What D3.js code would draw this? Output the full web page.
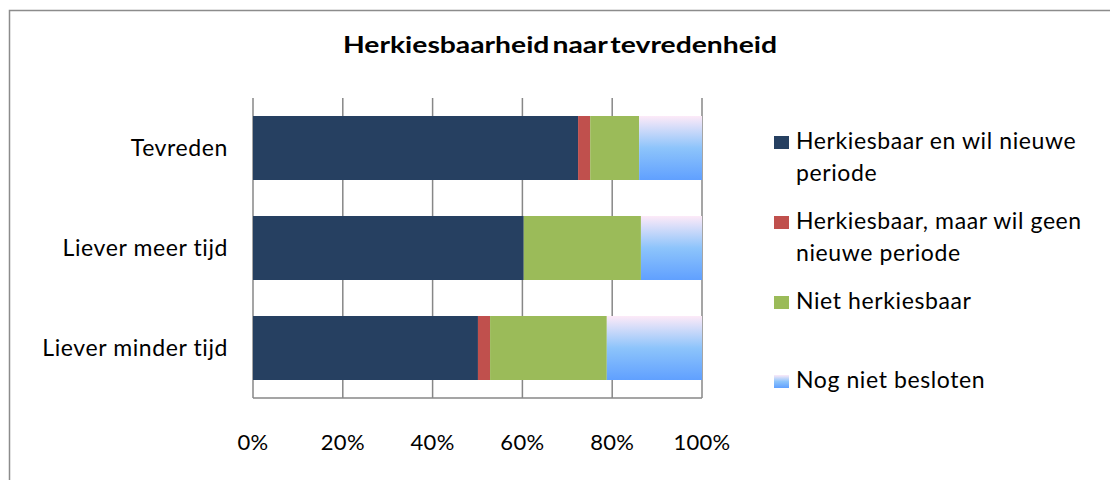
<!DOCTYPE html>
<html>
<head>
<meta charset="utf-8">
<script src="https://cdn.jsdelivr.net/npm/d3@7"></script>
<style>
  html, body { margin: 0; padding: 0; background: #fff; }
  svg { display: block; font-family: Lato, "Open Sans", sans-serif; }
</style>
</head>
<body>
<div id="chart"></div>
<script>
// values (percent of each row)
const categories = ['Tevreden', 'Liever meer tijd', 'Liever minder tijd'];
const seriesNames = [
  'Herkiesbaar en wil nieuwe periode',
  'Herkiesbaar, maar wil geen nieuwe periode',
  'Niet herkiesbaar',
  'Nog niet besloten'
];
const herkiesbaarWil = [72.4, 60.3, 50.1];
const herkiesbaarNiet = [2.7, 0, 2.7];
const nietHerkiesbaar = [10.9, 26.1, 26.0];
const nogNietBesloten = [14.0, 13.6, 21.2];
const tickValues = [0, 20, 40, 60, 80, 100];
const legendLines = [
  ['Herkiesbaar en wil nieuwe', 'periode'],
  ['Herkiesbaar, maar wil geen', 'nieuwe periode'],
  ['Niet herkiesbaar'],
  ['Nog niet besloten']
];

const W = 1110, H = 480;
const svg = d3.select('#chart').append('svg')
  .attr('width', W).attr('height', H);

const defs = svg.append('defs');
const grad = defs.append('linearGradient')
  .attr('id', 'blueFade')
  .attr('x1', 0).attr('y1', 0).attr('x2', 0).attr('y2', 1);
grad.append('stop').attr('offset', '0%').attr('stop-color', '#fdeaf8');
grad.append('stop').attr('offset', '50%').attr('stop-color', '#8dc4fb');
grad.append('stop').attr('offset', '100%').attr('stop-color', '#60a0ff');

const colors = ['#264061', '#c0504d', '#9bbb59', 'url(#blueFade)'];

// outer chart frame (runs off the right/bottom edge)
svg.append('rect')
  .attr('x', 9.5).attr('y', 10.5)
  .attr('width', W + 20).attr('height', H + 20)
  .attr('fill', 'none').attr('stroke', '#8c8c8c').attr('stroke-width', 1.5);

svg.append('text')
  .attr('x', 560).attr('y', 53)
  .attr('text-anchor', 'middle')
  .attr('font-size', 23).attr('font-weight', 'bold')
  .attr('word-spacing', -3)
  .attr('textLength', 434).attr('lengthAdjust', 'spacingAndGlyphs')
  .attr('fill', '#000')
  .text('Herkiesbaarheid naar tevredenheid');

const x = d3.scaleLinear().domain([0, 100]).range([253, 702]);
const y = d3.scaleBand().domain(categories).range([98, 398])
  .paddingInner(0.36).paddingOuter(0.18);

const rows = categories.map((c, i) => ({
  cat: c,
  s0: herkiesbaarWil[i], s1: herkiesbaarNiet[i],
  s2: nietHerkiesbaar[i], s3: nogNietBesloten[i]
}));
const stacked = d3.stack().keys(['s0', 's1', 's2', 's3'])(rows);

// gridlines
svg.append('g').selectAll('line')
  .data(tickValues)
  .join('line')
  .attr('x1', d => x(d)).attr('x2', d => x(d))
  .attr('y1', y.range()[0]).attr('y2', y.range()[1])
  .attr('stroke', '#878787').attr('stroke-width', 1.5);

svg.append('g').selectAll('g')
  .data(stacked)
  .join('g')
  .attr('fill', (d, i) => colors[i])
  .selectAll('rect')
  .data(d => d)
  .join('rect')
  .attr('x', d => x(d[0]))
  .attr('width', d => x(d[1]) - x(d[0]))
  .attr('y', d => y(d.data.cat))
  .attr('height', y.bandwidth());

// bottom axis line
svg.append('line')
  .attr('x1', x(0)).attr('x2', x(100))
  .attr('y1', 398).attr('y2', 398)
  .attr('stroke', '#878787').attr('stroke-width', 1.5);

svg.append('g').selectAll('text')
  .data(tickValues)
  .join('text')
  .attr('x', d => x(d)).attr('y', 450)
  .attr('text-anchor', 'middle')
  .attr('font-size', 22).attr('letter-spacing', 0.3).attr('fill', '#000')
  .text(d => d + '%');

svg.append('g').selectAll('text')
  .data(categories)
  .join('text')
  .attr('x', 228).attr('y', d => y(d) + y.bandwidth() / 2)
  .attr('dy', '0.35em')
  .attr('text-anchor', 'end')
  .attr('font-size', 23).attr('letter-spacing', 0.6).attr('fill', '#000')
  .text(d => d);

// legend
const legendY = [149, 229, 309, 388];
const legend = svg.append('g').selectAll('g')
  .data(seriesNames)
  .join('g')
  .attr('transform', (d, i) => `translate(774,${legendY[i]})`);
legend.append('rect')
  .attr('x', 0).attr('y', -13).attr('width', 15).attr('height', 13)
  .attr('fill', (d, i) => colors[i]);
legend.append('text')
  .attr('x', 22).attr('y', 0)
  .attr('font-size', 23).attr('letter-spacing', 0.6).attr('fill', '#000')
  .selectAll('tspan')
  .data((d, i) => legendLines[i])
  .join('tspan')
  .attr('x', 22)
  .attr('dy', (d, j) => j === 0 ? 0 : 32)
  .text(d => d);
</script>
</body>
</html>
